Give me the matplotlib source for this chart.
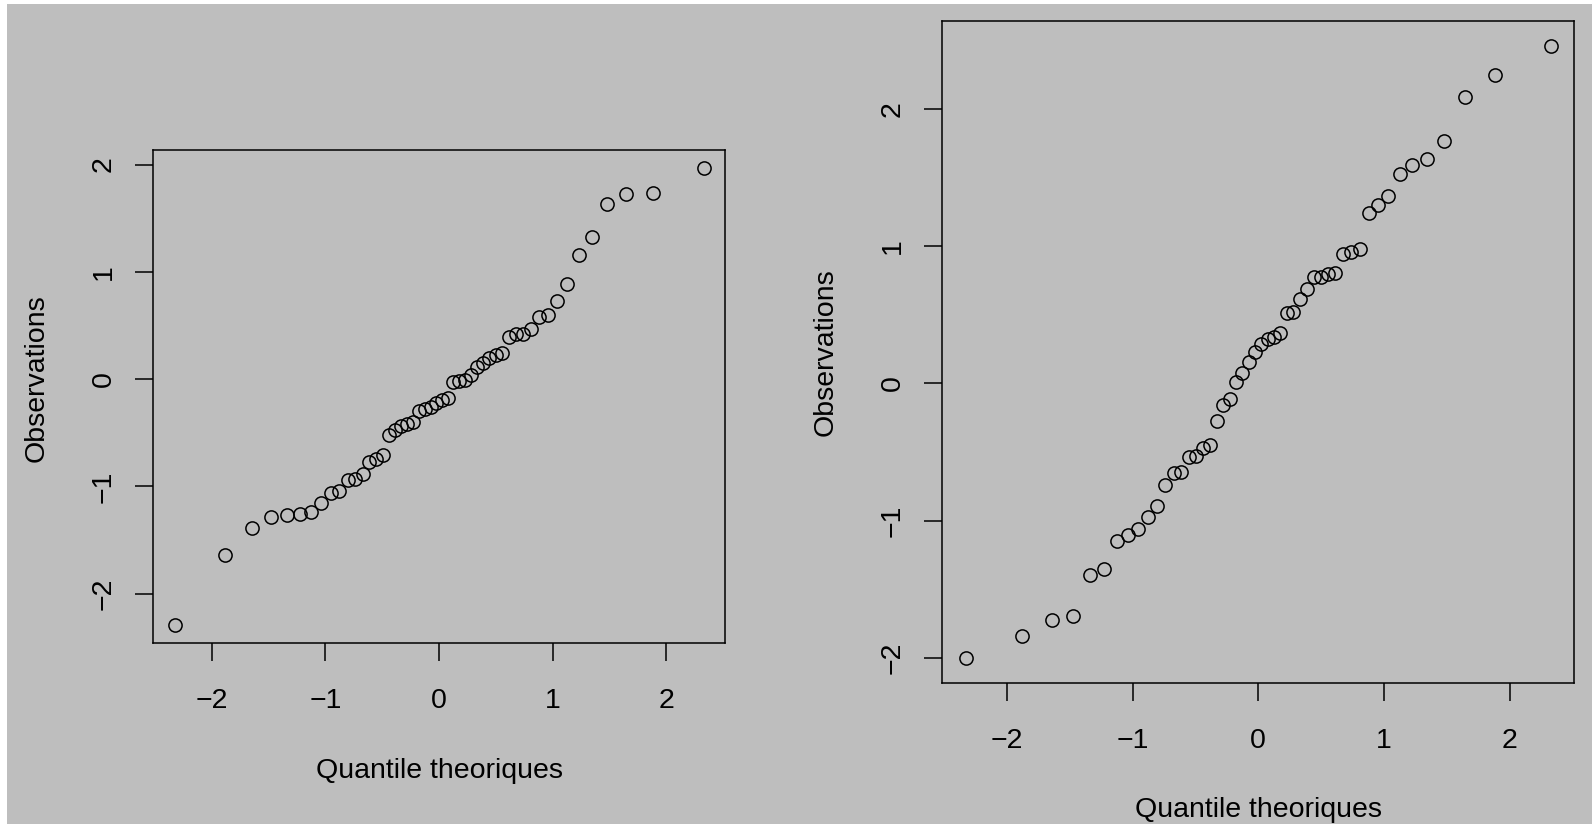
import matplotlib
matplotlib.use('Agg')
import matplotlib.pyplot as plt
import matplotlib.transforms as mtransforms
from matplotlib.patches import Rectangle

plt.rcParams['font.family'] = ['Liberation Sans', 'DejaVu Sans']

# Theoretical normal quantiles (n = 50), shared by both panels
theo_q = [-2.326, -1.881, -1.645, -1.476, -1.341, -1.227, -1.126, -1.036, -0.954, -0.878,
          -0.806, -0.739, -0.674, -0.613, -0.553, -0.496, -0.440, -0.385, -0.332, -0.279,
          -0.228, -0.176, -0.126, -0.075, -0.025, 0.025, 0.075, 0.126, 0.176, 0.228,
          0.279, 0.332, 0.385, 0.440, 0.496, 0.553, 0.613, 0.674, 0.739, 0.806,
          0.878, 0.954, 1.036, 1.126, 1.227, 1.341, 1.476, 1.645, 1.881, 2.326]

# Sorted observations, left panel
obs_left = [-2.288, -1.642, -1.388, -1.282, -1.270, -1.254, -1.242, -1.152, -1.062, -1.040,
            -0.938, -0.928, -0.885, -0.776, -0.742, -0.711, -0.524, -0.471, -0.437, -0.416,
            -0.397, -0.297, -0.282, -0.255, -0.224, -0.193, -0.177, -0.031, -0.015, -0.004,
            0.035, 0.115, 0.152, 0.197, 0.222, 0.245, 0.397, 0.419, 0.422, 0.468,
            0.583, 0.600, 0.726, 0.890, 1.157, 1.328, 1.629, 1.722, 1.737, 1.965]

# Sorted observations, right panel
obs_right = [-2.003, -1.844, -1.729, -1.694, -1.394, -1.352, -1.150, -1.104, -1.062, -0.977,
             -0.893, -0.740, -0.653, -0.648, -0.534, -0.532, -0.472, -0.447, -0.274, -0.158,
             -0.112, 0.013, 0.076, 0.160, 0.232, 0.288, 0.325, 0.342, 0.371, 0.517,
             0.524, 0.614, 0.690, 0.775, 0.775, 0.799, 0.804, 0.945, 0.962, 0.979,
             1.243, 1.304, 1.370, 1.528, 1.597, 1.635, 1.772, 2.088, 2.248, 2.463]

tick_vals = [-2, -1, 0, 1, 2]
tick_labels = ['\u22122', '\u22121', '0', '1', '2']
x_label = 'Quantile theoriques'
y_label = 'Observations'

W, H = 1596, 824
BG = '#bebebe'
FS = 20.5

fig = plt.figure(figsize=(W / 100, H / 100), dpi=100)
fig.patch.set_facecolor('white')
fig.add_artist(Rectangle((7 / W, 0), (1592 - 7) / W, (H - 4) / H, transform=fig.transFigure,
                         facecolor=BG, edgecolor='none', zorder=0))


# Add an axes from pixel box (left, top, right, bottom) measured top-down
def add_px_axes(left, top, right, bottom):
    return fig.add_axes([left / W, 1 - bottom / H, (right - left) / W, (bottom - top) / H])


# Draw one R-style qqnorm panel
def qq_panel(ax, obs, xlab_top_px, ylab_x_px, ylab_frac):
    ax.set_facecolor(BG)
    ax.plot(theo_q, obs, linestyle='none', marker='o', markersize=9.5,
            markerfacecolor='none', markeredgecolor='black', markeredgewidth=1.1)
    ax.set_xlim(-2.515, 2.515)
    lo, hi = min(obs), max(obs)
    pad = 0.04 * (hi - lo)
    ax.set_ylim(lo - pad, hi + pad)
    for side in ax.spines.values():
        side.set_linewidth(1.1)
        side.set_color('black')
    ax.set_xticks(tick_vals)
    ax.set_xticklabels(tick_labels)
    ax.set_yticks(tick_vals)
    ax.set_yticklabels(tick_labels, rotation=90, va='center')
    ax.tick_params(direction='out', length=13.2, width=1.1, labelsize=FS, colors='black')
    ax.tick_params(axis='x', pad=19.5)
    ax.tick_params(axis='y', pad=13)
    ax.set_xlabel(x_label, fontsize=FS)
    ax.set_ylabel(y_label, fontsize=FS)
    ax.xaxis.set_label_coords(0.5, 1 - xlab_top_px / H,
                              transform=mtransforms.blended_transform_factory(ax.transAxes, fig.transFigure))
    ax.yaxis.set_label_coords(ylab_x_px / W, ylab_frac,
                              transform=mtransforms.blended_transform_factory(fig.transFigure, ax.transAxes))


ax1 = add_px_axes(153.3, 150, 725, 643)
qq_panel(ax1, obs_left, 758, 153.3 - 104, 0.538)

ax2 = add_px_axes(942.3, 21.4, 1574.3, 682.5)
qq_panel(ax2, obs_right, 797, 942.3 - 104, 0.5)

fig.savefig('out.png', dpi=100, facecolor=fig.get_facecolor())
